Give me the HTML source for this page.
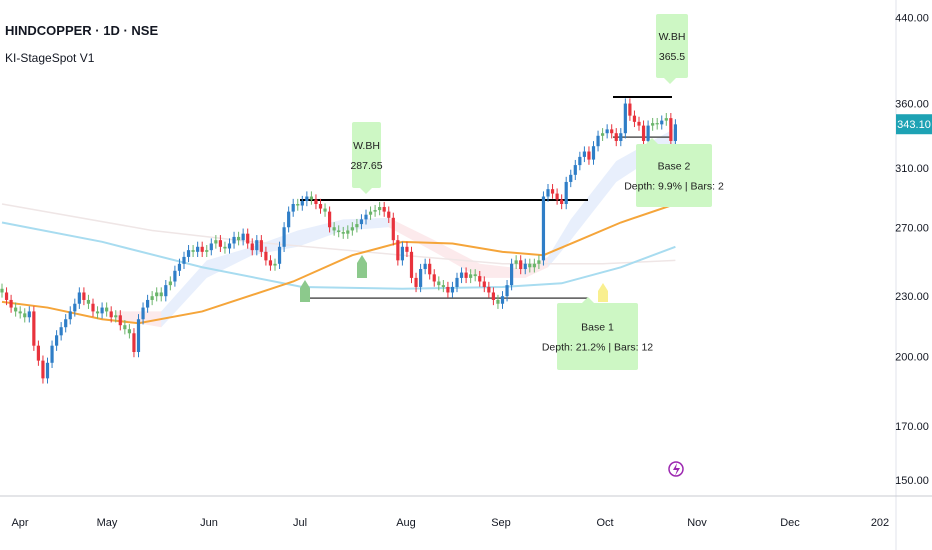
<!DOCTYPE html>
<html><head><meta charset="utf-8">
<style>
body{margin:0;background:#fff;font-family:"Liberation Sans Narrow","Liberation Sans",sans-serif;}
#wrap{position:relative;width:932px;height:550px;overflow:hidden;}
svg text{font-family:"Liberation Sans Narrow","Liberation Sans",sans-serif;}
</style></head>
<body>
<div id="wrap">
<svg id="chart" width="932" height="550"></svg>
</div>
<script>
const closes=[232,228,224,222,221,219,222,205,198,190,197,205,210,214,218,222,226,232,228,226,222,221,224,222,219,220,215,213,211,202,218,224,228,230,232,230,236,238,244,248,252,256,255,258,255,256,260,262,258,257,260,264,262,266,260,256,262,255,250,247,248,258,270,280,285,284,287,290,288,285,282,280,270,268,267,266,268,270,272,275,278,280,281,283,280,276,262,250,258,255,240,235,245,248,242,238,236,235,232,235,240,243,240,242,241,238,235,232,228,226,230,236,248,250,245,248,246,248,250,290,295,292,288,285,300,305,312,318,322,316,326,334,336,339,336,330,336,360,350,345,342,330,342,344,343,346,348,330,343];
const firstOpen=234;
const emaIdx=[0,10,22,30,44,64,77,88,99,110,119,126,136,148];
const emaVals=[227,224,218,216,222,238,253,261,260,255,253,261,273,285];
const smaIdx=[0,22,44,66,88,110,123,136,148];
const smaVals=[273,261,246,235,234,235,237,246,258];
const greyIdx=[0,33,55,88,110,132,148];
const greyVals=[285,268,261,253,248,248,250];
const bandIdx=[25,35,45,55,65,75,85,95,105,115,120,125,135,148];
const bandUp=[222,222,250,258,268,275,276,262,248,245,252,275,315,340];
const bandLo=[218,214,240,253,258,268,270,255,240,240,246,262,300,328];
const bandPink=[true,false,false,false,false,false,true,true,true,true,false,false,false];
const priceTicks=[440,360,310,270,230,200,170,150];
const months=["Apr","May","Jun","Jul","Aug","Sep","Oct","Nov","Dec","202"];
const monthX=[20,107,209,300,406,501,605,697,790,880];

const NS="http://www.w3.org/2000/svg";
const svg=document.getElementById('chart');
function y(p){return 480-430*Math.log(p/150);}
function x(i){return 2+i*4.55;}
function el(t,a,parent){const e=document.createElementNS(NS,t);for(const k in a)e.setAttribute(k,a[k]);(parent||svg).appendChild(e);return e;}
function txt(s,a,parent){const e=el('text',a,parent);e.textContent=s;return e;}

for(let k=0;k<bandIdx.length-1;k++){
  const d=`M${x(bandIdx[k])},${y(bandUp[k])} L${x(bandIdx[k+1])},${y(bandUp[k+1])} L${x(bandIdx[k+1])},${y(bandLo[k+1])} L${x(bandIdx[k])},${y(bandLo[k])}Z`;
  const p=el('path',{d:d,fill:bandPink[k]?'rgba(240,160,170,0.22)':'rgba(150,180,240,0.22)'});
  
  
}
function line(idx,vals,color,w,name){
  const d=idx.map((v,k)=>(k?'L':'M')+x(v)+','+y(vals[k])).join(' ');
  const p=el('path',{d:d,fill:'none',stroke:color,'stroke-width':w});
  
  
}
line(greyIdx,greyVals,'#efe6e6',1.5,'ma-grey-line');
line(smaIdx,smaVals,'#a8dcf0',2,'sma-200-line');
line(emaIdx,emaVals,'#f5a53a',2,'ema-50-line');

function hl(x1,x2,p,c,w,name){const l=el('line',{x1:x1,x2:x2,y1:y(p),y2:y(p),stroke:c,'stroke-width':w});}
hl(300,588,287.65,'#000',2,'breakout-line-1');
hl(300,588,229,'#555',1.5,'base-low-line-1');
hl(613,672,365.5,'#000',2,'breakout-line-2');
hl(613,672,333,'#555',1.5,'base-low-line-2');

let prev=firstOpen;
closes.forEach((c,i)=>{
  const o=prev;prev=c;
  const hi=Math.max(o,c)*1.012, lo=Math.min(o,c)*0.988;
  const col=c>=o?'#2f7ec7':'#e8323c';
  const g=el('g',{});
  
  
  el('line',{x1:x(i),x2:x(i),y1:y(hi),y2:y(lo),stroke:Math.abs(c-o)<3?'#6bb56b':col,'stroke-width':1},g);
  const top=y(Math.max(o,c)),bot=y(Math.min(o,c));
  el('rect',{x:x(i)-1.6,y:top,width:3.2,height:Math.max(1.2,bot-top),fill:Math.abs(c-o)<3?'#6bb56b':col},g);
});

function marker(cx,yb,h,col,name){const p=el('path',{d:`M${cx-5},${yb} L${cx-5},${yb-h+8} L${cx},${yb-h} L${cx+5},${yb-h+8} L${cx+5},${yb}Z`,fill:col});}
marker(305,302,22,'#8cc98c','signal-marker-1');
marker(362,278,23,'#8cc98c','signal-marker-2');
marker(603,302,19,'#f9ef8f','signal-marker-3');

function box(x0,y0,w,h,lines,ptr,name){
  const g=el('g',{});
  
  
  el('rect',{x:x0,y:y0,width:w,height:h,rx:2,fill:'#cdf7c4'},g);
  if(ptr)el('path',{d:ptr,fill:'#cdf7c4'},g);
  lines.forEach((s,k)=>txt(s,{x:x0+w/2,y:y0+h/2+(k-(lines.length-1)/2)*20+4,'text-anchor':'middle','font-size':10.5,fill:'#222'},g));
}
box(352,122,29,66,['W.BH','287.65'],'M360,188 L366,194 L372,188Z','wbh-label-1');
box(656,14,32,64,['W.BH','365.5'],'M664,78 L670,84 L676,78Z','wbh-label-2');
box(557,303,81,67,['Base 1','Depth: 21.2% | Bars: 12'],'M582,303 L588,297 L594,303Z','base-1-label');
box(636,144,76,63,['Base 2','Depth: 9.9% | Bars: 2'],'M646,144 L652,138 L658,144Z','base-2-label');

el('line',{x1:896,x2:896,y1:0,y2:550,stroke:'#e0e3eb'});
el('line',{x1:0,x2:932,y1:496,y2:496,stroke:'#c8cbd2'});
priceTicks.forEach(p=>{const t=txt(p.toFixed(2),{x:912,y:y(p)+4,'text-anchor':'middle','font-size':11,fill:'#131722'});});
months.forEach((m,k)=>{const t=txt(m,{x:monthX[k],y:526,'text-anchor':'middle','font-size':11,fill:'#131722'});});
const tag=el('g',{});


el('rect',{x:896,y:y(343.1)-10,width:36,height:20,fill:'#1da2b4'},tag);
txt('343.10',{x:914,y:y(343.1)+4,'text-anchor':'middle','font-size':11,fill:'#fff'},tag);

const li=el('g',{});


el('circle',{cx:676,cy:469,r:7,fill:'none',stroke:'#9c27b0','stroke-width':1.5},li);
el('path',{d:'M677,463 L673,470 L677,470 L675,476 L680,468 L676,468Z',fill:'#9c27b0'},li);

const t1=txt('HINDCOPPER · 1D · NSE',{x:5,y:35,'font-size':13,'font-weight':'bold',fill:'#131722'});


const t2=txt('KI-StageSpot V1',{x:5,y:62,'font-size':12,fill:'#131722'});


</script>
</body></html>
